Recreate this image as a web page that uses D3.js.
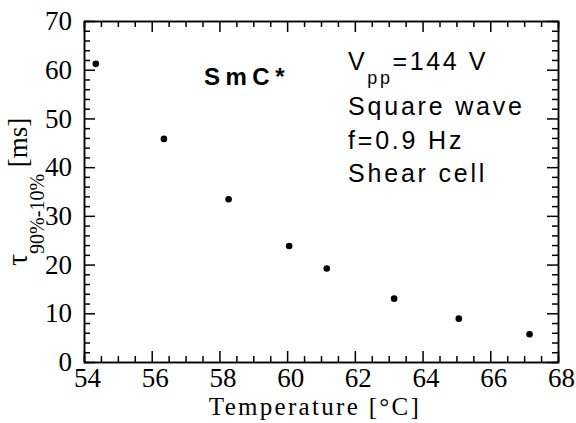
<!DOCTYPE html>
<html>
<head>
<meta charset="utf-8">
<style>
    body { margin: 0; background: #fff; }
    svg { display: block; }
    .axis path, .axis line { stroke: #000; stroke-width: 1.5px; }
    .note { font-family: "Liberation Sans", Arial, sans-serif; fill: #000; }
</style>
</head>
<body>
<svg></svg>
<script src="https://d3js.org/d3.v7.min.js"></script>
<script>
    // data
    var temperature = [54.35, 56.36, 58.27, 60.06, 61.17, 63.16, 65.07, 67.16];
    var tau = [61.2, 45.8, 33.4, 23.8, 19.2, 13.0, 8.9, 5.7];
    var xTicks = [54, 56, 58, 60, 62, 64, 66, 68];
    var yTicks = [0, 10, 20, 30, 40, 50, 60, 70];
    var notes = ['Square wave', 'f=0.9 Hz', 'Shear cell'];

    var vWidth = 576, vHeight = 423;
    var m = {left: 84, top: 21, right: 18, bottom: 61};
    var w = vWidth - m.left - m.right;
    var h = vHeight - m.top - m.bottom;

    var svg = d3.select('svg').attr('width', vWidth).attr('height', vHeight);
    var g = svg.append('g').attr('transform', 'translate(' + m.left + ',' + m.top + ')');

    var x = d3.scaleLinear().domain([54, 68]).range([0, w]);
    var y = d3.scaleLinear().domain([0, 70]).range([h, 0]);

    var xMinor = d3.range(54, 68.01, 0.5).filter(function (d) { return d % 2 !== 0; });
    var yMinor = d3.range(0, 70.01, 2).filter(function (d) { return d % 10 !== 0; });

    function serif(sel) {
        sel.selectAll('text')
            .style('font-family', '"Liberation Serif", serif')
            .style('font-size', '27px')
            .attr('fill', '#000');
    }

    // minor ticks first (no labels)
    g.append('g').attr('class', 'axis').attr('transform', 'translate(0,' + h + ')')
        .call(d3.axisBottom(x).tickValues(xMinor).tickSize(-6).tickFormat(''));
    g.append('g').attr('class', 'axis')
        .call(d3.axisTop(x).tickValues(xMinor).tickSize(-6).tickFormat(''));
    g.append('g').attr('class', 'axis')
        .call(d3.axisLeft(y).tickValues(yMinor).tickSize(-6).tickFormat(''));
    g.append('g').attr('class', 'axis').attr('transform', 'translate(' + w + ',0)')
        .call(d3.axisRight(y).tickValues(yMinor).tickSize(-6).tickFormat(''));

    // major ticks
    var xb = g.append('g').attr('class', 'axis').attr('transform', 'translate(0,' + h + ')')
        .call(d3.axisBottom(x).tickValues(xTicks).tickSizeInner(-11).tickSizeOuter(0).tickPadding(7));
    serif(xb);
    xb.selectAll('text').attr('dy', '0.67em').attr('dx', 3);
    g.append('g').attr('class', 'axis')
        .call(d3.axisTop(x).tickValues(xTicks).tickSizeInner(-11).tickSizeOuter(0).tickFormat(''));
    var yl = g.append('g').attr('class', 'axis')
        .call(d3.axisLeft(y).tickValues(yTicks).tickSizeInner(-11).tickSizeOuter(0).tickPadding(12));
    serif(yl);
    yl.selectAll('text').attr('dy', '0.32em');
    g.append('g').attr('class', 'axis').attr('transform', 'translate(' + w + ',0)')
        .call(d3.axisRight(y).tickValues(yTicks).tickSizeInner(-11).tickSizeOuter(0).tickFormat(''));

    // points
    g.selectAll('circle.pt').data(temperature).enter().append('circle')
        .attr('class', 'pt')
        .attr('cx', function (d) { return x(d); })
        .attr('cy', function (d, i) { return y(tau[i]); })
        .attr('r', 3.3)
        .attr('fill', '#000');

    // axis titles
    svg.append('text')
        .attr('x', 315).attr('y', 415)
        .attr('text-anchor', 'middle')
        .style('font-family', '"Liberation Serif", serif')
        .style('font-size', '25px')
        .style('letter-spacing', '2.3px')
        .text('Temperature [°C]');

    var yt = svg.append('text')
        .attr('transform', 'translate(27,266) rotate(-90)')
        .style('font-family', '"Liberation Serif", serif')
        .style('font-size', '27px');
    yt.append('tspan').style('font-size', '30px').text('τ');
    yt.append('tspan').attr('dy', 17).style('font-size', '20px').text('90%-10%');
    yt.append('tspan').attr('dy', -17).text(' [ms]');

    // annotations
    svg.append('text').attr('class', 'note')
        .attr('x', 204).attr('y', 85)
        .style('font-size', '24px').style('font-weight', 'bold').style('letter-spacing', '5.5px')
        .text('SmC*');

    var vpp = svg.append('text').attr('class', 'note')
        .attr('x', 348).attr('y', 70)
        .style('font-size', '25px').style('letter-spacing', '2.6px');
    vpp.append('tspan').text('V');
    vpp.append('tspan').attr('dy', 14).style('font-size', '18px').text('pp');
    vpp.append('tspan').attr('dy', -14).text('=144 V');

    svg.selectAll('text.line').data(notes).enter().append('text')
        .attr('class', 'note line')
        .attr('x', 348)
        .attr('y', function (d, i) { return 115 + i * 33.5; })
        .style('font-size', '25px').style('letter-spacing', '2.8px')
        .text(function (d) { return d; });
</script>
</body>
</html>
